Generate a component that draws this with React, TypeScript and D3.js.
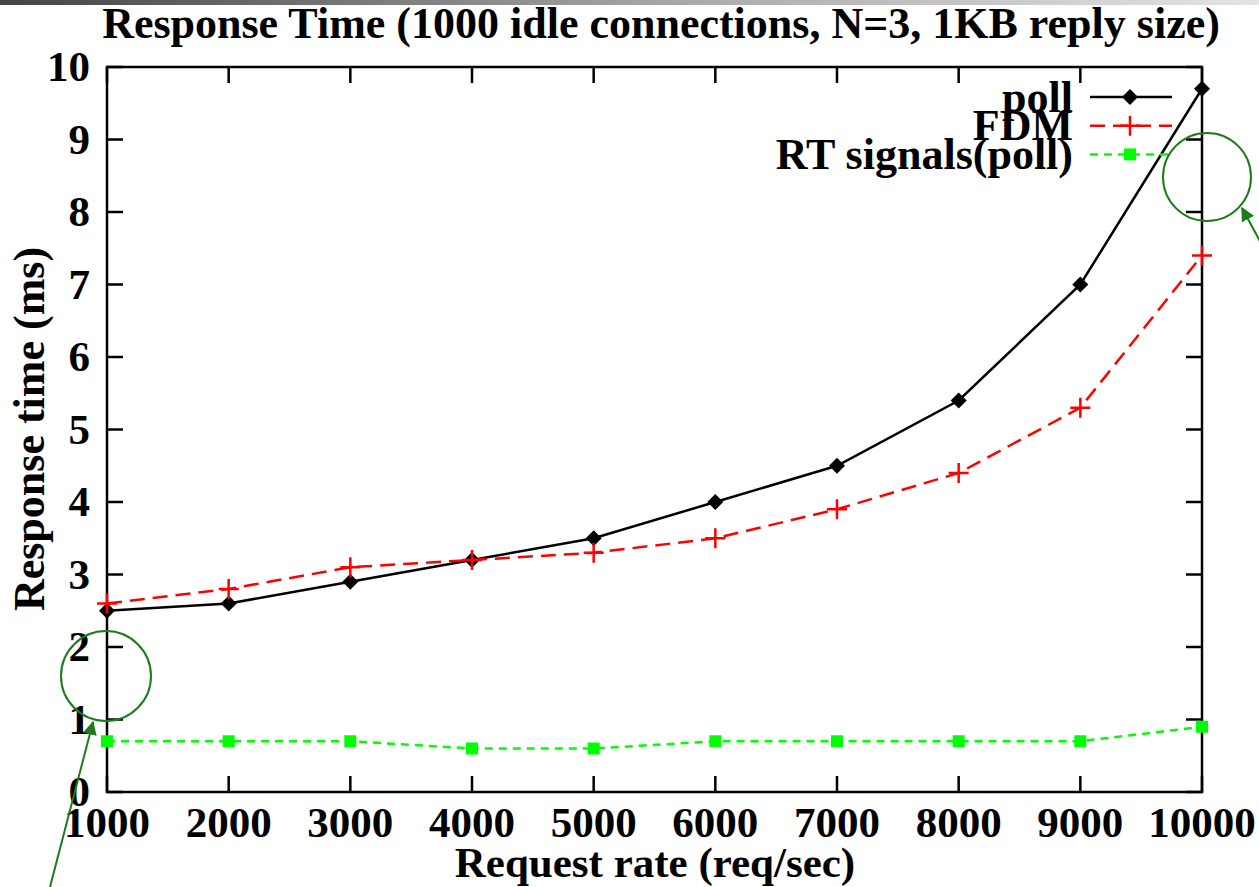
import React, { useEffect, useRef } from "react";
import * as d3 from "d3";

const rates = [1000, 2000, 3000, 4000, 5000, 6000, 7000, 8000, 9000, 10000];
const pollTimes = [2.5, 2.6, 2.9, 3.2, 3.5, 4.0, 4.5, 5.4, 7.0, 9.7];
const fdmTimes = [2.6, 2.8, 3.1, 3.2, 3.3, 3.5, 3.9, 4.4, 5.3, 7.4];
const rtTimes = [0.7, 0.7, 0.7, 0.6, 0.6, 0.7, 0.7, 0.7, 0.7, 0.9];
const yTicks = [0, 1, 2, 3, 4, 5, 6, 7, 8, 9, 10];
const seriesNames = ["poll", "FDM", "RT signals(poll)"];

const W = 1259;
const H = 887;
const FONT = "'Liberation Serif', 'Times New Roman', serif";
const FS = 43;
const ANNOT = "#1c7c1c";

const App = () => {
  const ref = useRef<SVGSVGElement | null>(null);

  useEffect(() => {
    const svg = d3.select(ref.current);
    svg.selectAll("*").remove();

    const x = d3.scaleLinear().domain([1000, 10000]).range([107, 1202]);
    const y = d3.scaleLinear().domain([0, 10]).range([792, 67]);

    // gray strip at the very top
    const defs = svg.append("defs");
    const grad = defs.append("linearGradient").attr("id", "topbar");
    grad.append("stop").attr("offset", "0%").attr("stop-color", "#444");
    grad.append("stop").attr("offset", "55%").attr("stop-color", "#aaa");
    grad.append("stop").attr("offset", "100%").attr("stop-color", "#e4e4e4");
    svg.append("rect").attr("width", W).attr("height", 5).attr("fill", "url(#topbar)");

    svg
      .append("text")
      .attr("x", 661)
      .attr("y", 38)
      .attr("text-anchor", "middle")
      .attr("font-size", 44)
      .attr("font-weight", "bold")
      .text("Response Time (1000 idle connections, N=3, 1KB reply size)");

    const [x0, x1] = x.range();
    const [y0, y1] = y.range();
    const tick = 16;
    const g = svg.append("g").attr("stroke", "#000").attr("stroke-width", 2.5);

    // ticks on all four sides (mirrored)
    rates.forEach((r) => {
      g.append("line").attr("x1", x(r)).attr("x2", x(r)).attr("y1", y0).attr("y2", y0 - tick);
      g.append("line").attr("x1", x(r)).attr("x2", x(r)).attr("y1", y1).attr("y2", y1 + tick);
    });
    yTicks.forEach((v) => {
      g.append("line").attr("x1", x0).attr("x2", x0 + tick).attr("y1", y(v)).attr("y2", y(v));
      g.append("line").attr("x1", x1).attr("x2", x1 - tick).attr("y1", y(v)).attr("y2", y(v));
    });
    g.append("rect")
      .attr("x", x0)
      .attr("y", y1)
      .attr("width", x1 - x0)
      .attr("height", y0 - y1)
      .attr("fill", "none");

    const labels = svg.append("g").attr("font-size", FS).attr("font-weight", "bold");
    yTicks.forEach((v) => {
      labels
        .append("text")
        .attr("x", 90)
        .attr("y", y(v))
        .attr("dy", "0.33em")
        .attr("text-anchor", "end")
        .text(v);
    });
    rates.forEach((r) => {
      labels
        .append("text")
        .attr("x", x(r))
        .attr("y", 837)
        .attr("text-anchor", "middle")
        .text(r);
    });

    svg
      .append("text")
      .attr("transform", `translate(44, 429) rotate(-90)`)
      .attr("text-anchor", "middle")
      .attr("font-size", 44)
      .attr("font-weight", "bold")
      .text("Response time (ms)");
    svg
      .append("text")
      .attr("x", 655)
      .attr("y", 877)
      .attr("text-anchor", "middle")
      .attr("font-size", FS)
      .attr("font-weight", "bold")
      .text("Request rate (req/sec)");

    const series = [
      { name: seriesNames[0], values: pollTimes, color: "#000", dash: null, marker: "diamond" },
      { name: seriesNames[1], values: fdmTimes, color: "#ff0000", dash: "15,8", marker: "plus" },
      { name: seriesNames[2], values: rtTimes, color: "#00ff00", dash: "8,6", marker: "square" },
    ];

    const drawMarker = (sel: any, kind: string, cx: number, cy: number, color: string) => {
      if (kind === "diamond") {
        sel
          .append("path")
          .attr("d", `M${cx},${cy - 8}L${cx + 8},${cy}L${cx},${cy + 8}L${cx - 8},${cy}Z`)
          .attr("fill", color);
      } else if (kind === "plus") {
        sel
          .append("path")
          .attr("d", `M${cx - 10},${cy}H${cx + 10}M${cx},${cy - 10}V${cy + 10}`)
          .attr("stroke", color)
          .attr("stroke-width", 2.5);
      } else {
        sel
          .append("rect")
          .attr("x", cx - 6)
          .attr("y", cy - 6)
          .attr("width", 12)
          .attr("height", 12)
          .attr("fill", color);
      }
    };

    const line = d3
      .line<number>()
      .x((_, i) => x(rates[i]))
      .y((d) => y(d));

    series.forEach((s) => {
      svg
        .append("path")
        .datum(s.values)
        .attr("d", line)
        .attr("fill", "none")
        .attr("stroke", s.color)
        .attr("stroke-width", 2.5)
        .attr("stroke-dasharray", s.dash);
      const mg = svg.append("g");
      s.values.forEach((v, i) => drawMarker(mg, s.marker, x(rates[i]), y(v), s.color));
    });

    // legend
    const leg = svg.append("g");
    series.forEach((s, i) => {
      const ly = 97 + i * 28.7;
      leg
        .append("text")
        .attr("x", 1073)
        .attr("y", ly)
        .attr("dy", "0.33em")
        .attr("text-anchor", "end")
        .attr("font-size", 44)
        .attr("font-weight", "bold")
        .text(s.name);
      leg
        .append("line")
        .attr("x1", 1090)
        .attr("x2", 1172)
        .attr("y1", ly)
        .attr("y2", ly)
        .attr("stroke", s.color)
        .attr("stroke-width", 2.5)
        .attr("stroke-dasharray", s.dash);
      drawMarker(leg, s.marker, 1130, ly, s.color);
    });

    // annotation circles and arrows
    defs
      .append("marker")
      .attr("id", "arrow")
      .attr("viewBox", "0 0 10 10")
      .attr("refX", 9)
      .attr("refY", 5)
      .attr("markerWidth", 14)
      .attr("markerHeight", 14)
      .attr("markerUnits", "userSpaceOnUse")
      .attr("orient", "auto")
      .append("path")
      .attr("d", "M0,0L10,5L0,10Z")
      .attr("fill", ANNOT);
    const ann = svg.append("g").attr("stroke", ANNOT).attr("stroke-width", 2).attr("fill", "none");
    ann.append("circle").attr("cx", 106).attr("cy", 676).attr("r", 45);
    ann.append("circle").attr("cx", 1207).attr("cy", 177).attr("r", 44);
    ann
      .append("line")
      .attr("x1", 50)
      .attr("y1", 887)
      .attr("x2", 93)
      .attr("y2", 722)
      .attr("marker-end", "url(#arrow)");
    ann
      .append("line")
      .attr("x1", 1262)
      .attr("y1", 245)
      .attr("x2", 1242)
      .attr("y2", 208)
      .attr("marker-end", "url(#arrow)");
  }, []);

  return (
    <svg
      ref={ref}
      width={W}
      height={H}
      style={{ position: "absolute", left: 0, top: 0, background: "#fff", fontFamily: FONT }}
    />
  );
};

export default App;
